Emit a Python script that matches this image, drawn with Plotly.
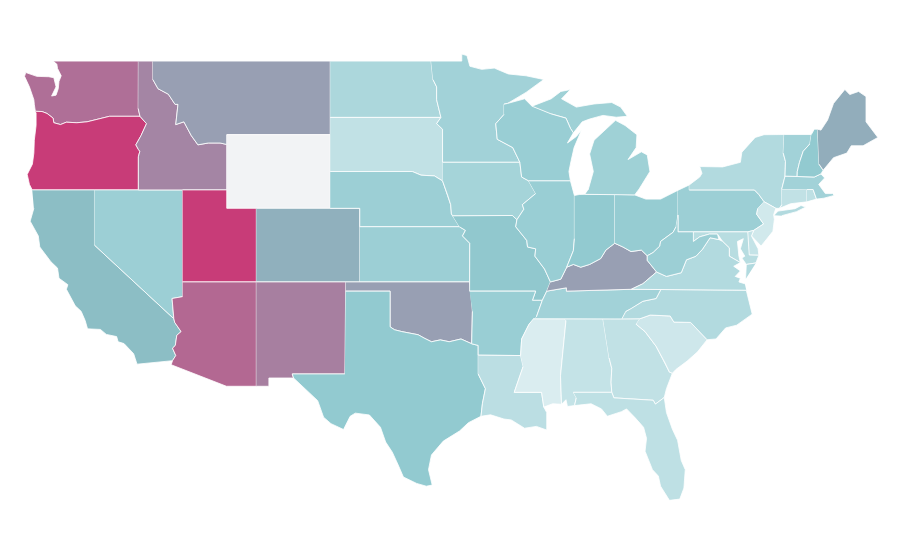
import plotly.graph_objects as go
from plotly.colors import sample_colorscale

# no topojson offline, so the state outlines are kept here as rough lon/lat lists
outlines = {
"WA": [(-122.76,49),(-117.03,49),(-117.04,46.42),(-116.92,46),(-118.98,46),(-119.3,45.93),(-120.5,45.7),(-121.2,45.65),(-121.9,45.68),(-122.3,45.55),(-122.75,45.65),(-122.8,45.9),(-123.2,46.15),(-123.55,46.26),(-124,46.27),(-124.07,46.65),(-124.1,46.9),(-124.4,47.6),(-124.73,48.17),(-124.65,48.38),(-123.9,48.17),(-123.1,48.15),(-122.75,48.1),(-122.6,47.6),(-122.9,47.1),(-122.6,47.15),(-122.45,47.5),(-122.4,47.9),(-122.25,48.2),(-122.5,48.6),(-122.55,48.85)],
"OR": [(-124,46.27),(-123.55,46.26),(-123.2,46.15),(-122.8,45.9),(-122.75,45.65),(-122.3,45.55),(-121.9,45.68),(-121.2,45.65),(-120.5,45.7),(-119.3,45.93),(-118.98,46),(-116.92,46),(-116.48,45.6),(-116.85,44.95),(-117.2,44.45),(-117.03,44.2),(-116.93,44.1),(-117.03,43.8),(-117.03,42),(-124.21,42),(-124.4,42.3),(-124.55,42.84),(-124.2,43.4),(-124.1,44),(-124.07,44.7),(-123.95,45.5),(-123.95,46.2)],
"CA": [(-124.21,42),(-120,42),(-120,39),(-114.63,35),(-114.57,34.8),(-114.14,34.3),(-114.43,34.1),(-114.53,33.55),(-114.72,33.4),(-114.5,33),(-114.72,32.72),(-117.12,32.53),(-117.25,32.85),(-117.35,33.1),(-118,33.65),(-118.4,33.75),(-118.5,34.03),(-119.2,34.15),(-119.6,34.42),(-120.47,34.45),(-120.63,34.9),(-120.9,35.4),(-121.3,35.7),(-121.9,36.6),(-121.8,36.85),(-122.4,37.2),(-122.5,37.75),(-122.95,38.1),(-123.7,38.9),(-123.8,39.5),(-124.35,40.3),(-124.1,41)],
"NV": [(-120,42),(-114.04,42),(-114.04,36.2),(-114.75,36.1),(-114.63,35),(-120,39)],
"ID": [(-117.03,49),(-116.05,49),(-116.05,48),(-115.7,47.5),(-115,47.2),(-114.55,46.65),(-114.35,46.65),(-114.5,45.55),(-113.95,45.7),(-113.45,44.95),(-113,44.45),(-112.3,44.55),(-111.5,44.55),(-111.05,44.47),(-111.05,42),(-117.03,42),(-117.03,43.8),(-116.93,44.1),(-117.03,44.2),(-117.2,44.45),(-116.85,44.95),(-116.48,45.6),(-116.92,46),(-117.04,46.42)],
"MT": [(-116.05,49),(-104.05,49),(-104.05,45),(-111.05,45),(-111.05,44.47),(-111.5,44.55),(-112.3,44.55),(-113,44.45),(-113.45,44.95),(-113.95,45.7),(-114.5,45.55),(-114.35,46.65),(-114.55,46.65),(-115,47.2),(-115.7,47.5),(-116.05,48)],
"WY": [(-111.05,45),(-104.05,45),(-104.05,41),(-111.05,41)],
"UT": [(-114.04,42),(-111.05,42),(-111.05,41),(-109.05,41),(-109.05,37),(-114.04,37)],
"CO": [(-109.05,41),(-102.05,41),(-102.05,37),(-109.05,37)],
"AZ": [(-114.04,37),(-109.05,37),(-109.05,31.33),(-111.07,31.33),(-114.81,32.5),(-114.72,32.72),(-114.5,33),(-114.72,33.4),(-114.53,33.55),(-114.43,34.1),(-114.14,34.3),(-114.57,34.8),(-114.63,35),(-114.75,36.1),(-114.04,36.2)],
"NM": [(-109.05,37),(-103,37),(-103.06,32),(-106.62,32),(-106.53,31.78),(-108.2,31.78),(-108.2,31.33),(-109.05,31.33)],
"ND": [(-104.05,49),(-97.23,49),(-97.1,48),(-96.85,47.6),(-96.85,46.9),(-96.56,45.94),(-104.05,45.94)],
"SD": [(-104.05,45.94),(-96.56,45.94),(-96.85,45.6),(-96.45,45.3),(-96.45,43.5),(-96.45,42.49),(-97,42.76),(-97.9,42.8),(-98.5,43),(-104.05,43)],
"NE": [(-104.05,43),(-98.5,43),(-97.9,42.8),(-97,42.76),(-96.45,42.49),(-96.1,41.7),(-95.9,41.2),(-95.85,40.7),(-95.31,40),(-102.05,40),(-102.05,41),(-104.05,41)],
"KS": [(-102.05,40),(-95.31,40),(-94.9,39.8),(-95.1,39.5),(-94.61,39.1),(-94.62,37),(-102.05,37)],
"OK": [(-103,37),(-94.62,37),(-94.43,35.4),(-94.48,33.64),(-95.2,33.9),(-96,33.75),(-96.6,33.85),(-97.2,33.75),(-97.7,33.95),(-98.1,34.13),(-99.2,34.3),(-99.7,34.4),(-100,34.56),(-100,36.5),(-103,36.5)],
"TX": [(-103,36.5),(-100,36.5),(-100,34.56),(-99.7,34.4),(-99.2,34.3),(-98.1,34.13),(-97.7,33.95),(-97.2,33.75),(-96.6,33.85),(-96,33.75),(-95.2,33.9),(-94.48,33.64),(-94.04,33.55),(-94.04,32),(-93.55,31.2),(-93.75,30.4),(-93.85,29.7),(-94.7,29.35),(-95.3,28.9),(-96.4,28.35),(-97.2,27.6),(-97.4,26.8),(-97.15,25.96),(-97.55,25.9),(-98.2,26.05),(-99.1,26.4),(-99.45,27.05),(-99.85,27.75),(-100.3,28.3),(-100.65,29.1),(-101.4,29.77),(-102.35,29.87),(-102.7,29.7),(-103.15,28.98),(-104,29.3),(-104.5,29.65),(-104.9,30.55),(-106,31.4),(-106.53,31.78),(-106.62,32),(-103.06,32)],
"MN": [(-97.23,49),(-95.15,49),(-95.15,49.38),(-94.8,49.3),(-94.6,48.72),(-93.8,48.55),(-92.95,48.62),(-92,48.3),(-90.8,48.2),(-89.6,48),(-90.8,47.3),(-92.05,46.7),(-92.29,46.66),(-92.29,46.1),(-92.85,45.6),(-92.75,44.75),(-91.7,44.3),(-91.22,43.5),(-96.45,43.5),(-96.45,45.3),(-96.85,45.6),(-96.56,45.94),(-96.85,46.9),(-96.85,47.6),(-97.1,48)],
"IA": [(-96.45,43.5),(-91.22,43.5),(-91.1,42.7),(-90.64,42.5),(-90.15,41.8),(-91.05,41.2),(-90.95,40.95),(-91.42,40.38),(-91.73,40.61),(-95.77,40.59),(-95.85,40.7),(-95.9,41.2),(-96.1,41.7),(-96.45,42.49)],
"MO": [(-95.77,40.59),(-91.73,40.61),(-91.42,40.38),(-91.5,40),(-90.75,39.25),(-90.7,38.9),(-90.15,38.8),(-90.2,38.4),(-89.55,37.7),(-89.15,37),(-89.4,36.5),(-89.7,36),(-90.37,36),(-90.15,36.5),(-94.62,36.5),(-94.61,39.1),(-95.1,39.5),(-94.9,39.8),(-95.31,40)],
"AR": [(-94.62,36.5),(-90.15,36.5),(-90.37,36),(-89.7,36),(-90.1,35.1),(-90.6,34.7),(-91.1,33.9),(-91.17,33),(-94.04,33.02),(-94.04,33.55),(-94.48,33.64),(-94.43,35.4)],
"LA": [(-94.04,33.02),(-91.17,33),(-91,32.4),(-91.6,31),(-89.75,31),(-89.6,30.2),(-89.4,29.9),(-89.4,28.95),(-90.1,29.15),(-90.9,29.05),(-91.8,29.5),(-92.3,29.55),(-93.2,29.78),(-93.85,29.7),(-93.75,30.4),(-93.55,31.2),(-94.04,32)],
"MS": [(-91.17,33),(-91.1,33.9),(-90.6,34.7),(-90.3,35),(-88.2,35),(-88.1,34.9),(-88.47,31.9),(-88.4,30.35),(-89,30.38),(-89.6,30.2),(-89.75,31),(-91.6,31),(-91,32.4)],
"AL": [(-88.2,35),(-85.6,35),(-85.18,32.87),(-85,32.3),(-85.05,31.55),(-85,31),(-87.6,31),(-87.4,30.7),(-87.52,30.28),(-88,30.23),(-88.1,30.6),(-88.4,30.35),(-88.47,31.9),(-88.1,34.9)],
"GA": [(-85.6,35),(-84.32,34.99),(-83.1,35),(-83.35,34.7),(-82.75,34.3),(-82,33.5),(-81.4,32.6),(-81.1,32.1),(-80.9,32.04),(-81.3,31.2),(-81.45,30.72),(-82.05,30.36),(-82.2,30.57),(-84.86,30.7),(-85,31),(-85.05,31.55),(-85,32.3),(-85.18,32.87)],
"FL": [(-87.6,31),(-85,31),(-84.86,30.7),(-82.2,30.57),(-82.05,30.36),(-81.45,30.72),(-81.3,29.9),(-80.9,29),(-80.55,28.4),(-80.3,27.3),(-80.03,26.8),(-80.12,25.8),(-80.4,25.2),(-81.1,25.13),(-81.7,25.9),(-81.85,26.45),(-82.25,26.8),(-82.75,27.8),(-82.65,28.5),(-82.85,29.1),(-83.4,29.6),(-84,30.1),(-84.35,29.95),(-85.3,29.7),(-85.7,30.1),(-86.4,30.38),(-87.52,30.28),(-87.4,30.7)],
"SC": [(-83.1,35),(-82.4,35.2),(-81.05,35.15),(-80.8,34.82),(-79.67,34.8),(-78.55,33.86),(-79.2,33.2),(-79.9,32.7),(-80.65,32.25),(-80.9,32.04),(-81.1,32.1),(-81.4,32.6),(-82,33.5),(-82.75,34.3),(-83.35,34.7)],
"NC": [(-84.32,34.99),(-83.1,35),(-82.4,35.2),(-81.05,35.15),(-80.8,34.82),(-79.67,34.8),(-78.55,33.86),(-77.95,33.9),(-77.3,34.5),(-76.55,34.65),(-75.5,35.25),(-75.9,36.55),(-81.68,36.59),(-82,36.1),(-82.9,35.95),(-83.7,35.55),(-84.05,35.4)],
"TN": [(-90.3,35),(-88.2,35),(-85.6,35),(-84.32,34.99),(-84.05,35.4),(-83.7,35.55),(-82.9,35.95),(-82,36.1),(-81.68,36.59),(-83.68,36.6),(-88.07,36.5),(-88.07,36.68),(-89.4,36.5),(-89.7,36),(-90.1,35.1)],
"KY": [(-89.4,36.5),(-88.07,36.68),(-88.07,36.5),(-83.68,36.6),(-82.9,36.9),(-81.97,37.54),(-82.6,38.17),(-82.6,38.42),(-83,38.73),(-83.7,38.65),(-84.25,38.9),(-84.8,39.1),(-85.4,38.73),(-85.75,38.27),(-86.5,37.95),(-87.1,37.8),(-87.6,37.95),(-88.05,37.8),(-88.45,37.15),(-89.15,37)],
"IL": [(-90.64,42.5),(-87.8,42.5),(-87.53,41.7),(-87.53,39.35),(-87.6,38.7),(-88.05,37.8),(-88.45,37.15),(-89.15,37),(-89.55,37.7),(-90.2,38.4),(-90.15,38.8),(-90.7,38.9),(-90.75,39.25),(-91.5,40),(-91.42,40.38),(-90.95,40.95),(-91.05,41.2),(-90.15,41.8)],
"IN": [(-87.53,41.7),(-87.2,41.75),(-86.8,41.76),(-84.8,41.76),(-84.8,39.1),(-85.4,38.73),(-85.75,38.27),(-86.5,37.95),(-87.1,37.8),(-87.6,37.95),(-88.05,37.8),(-87.6,38.7),(-87.53,39.35)],
"OH": [(-84.8,41.76),(-83.45,41.73),(-82.7,41.5),(-81.7,41.5),(-80.52,41.98),(-80.52,40.64),(-80.65,40),(-80.85,39.7),(-81.7,39.2),(-81.75,38.95),(-82.2,38.6),(-82.6,38.42),(-83,38.73),(-83.7,38.65),(-84.25,38.9),(-84.8,39.1)],
"MI": [(-86.8,41.76),(-84.8,41.76),(-83.45,41.73),(-83.15,42.05),(-82.42,43),(-82.6,43.9),(-83,44.07),(-83.9,43.65),(-83.35,44.3),(-83.3,45),(-84.1,45.5),(-84.75,45.78),(-85.55,45.2),(-86.2,44.7),(-86.5,43.95),(-86.25,43),(-86.6,42),None,
       (-90.4,46.55),(-89.1,46.95),(-88.45,47.35),(-87.8,47.45),(-88.4,46.95),(-87.4,46.5),(-86.2,46.67),(-85,46.75),(-84.4,46.5),(-83.95,46),(-84.7,45.95),(-85.6,46.05),(-86.5,45.85),(-87,45.7),(-87.6,45.1),(-87.8,45.35),(-88.1,45.9),(-89.1,46.13)],
"WI": [(-92.29,46.66),(-92.05,46.7),(-90.9,46.95),(-90.4,46.55),(-89.1,46.13),(-88.1,45.9),(-87.8,45.35),(-87.6,45.1),(-88,44.55),(-87.4,44.9),(-87.05,45.25),(-87.55,44.3),(-87.75,43.6),(-87.9,43),(-87.8,42.5),(-90.64,42.5),(-91.1,42.7),(-91.22,43.5),(-91.7,44.3),(-92.75,44.75),(-92.85,45.6),(-92.29,46.1)],
"PA": [(-80.52,41.98),(-79.76,42.27),(-79.76,42),(-75.35,42),(-75.05,41.75),(-74.7,41.36),(-75.13,40.98),(-75.2,40.68),(-74.73,40.15),(-75.4,39.8),(-75.8,39.72),(-80.52,39.72),(-80.52,40.64)],
"NY": [(-79.76,42.27),(-79.05,42.7),(-78.9,42.9),(-79.05,43.27),(-77.5,43.25),(-76.3,43.5),(-76.2,44.05),(-75.3,44.85),(-74.7,45),(-73.34,45.01),(-73.4,44),(-73.25,43.55),(-73.28,42.75),(-73.5,42.05),(-73.49,41.2),(-73.65,41),(-73.9,41),(-74.7,41.36),(-75.05,41.75),(-75.35,42),(-79.76,42),None,
       (-74.02,40.62),(-73.75,40.85),(-72.6,40.98),(-72.2,41.15),(-71.87,41.07),(-72.5,40.82),(-73.5,40.6)],
"NJ": [(-74.7,41.36),(-73.9,41),(-74.05,40.65),(-74,40.4),(-74.1,39.75),(-74.9,38.95),(-75.55,39.5),(-75.4,39.8),(-74.73,40.15),(-75.2,40.68),(-75.13,40.98)],
"DE": [(-75.8,39.72),(-75.4,39.8),(-75.55,39.5),(-75.1,38.8),(-75.05,38.45),(-75.7,38.46)],
"MD": [(-79.48,39.72),(-75.8,39.72),(-75.7,38.46),(-75.05,38.45),(-75.25,38.03),(-75.9,37.95),(-76.2,38.3),(-76,38.4),(-76.3,38.8),(-76.1,39.35),(-76.5,39.2),(-76.4,38.4),(-76.3,38.05),(-77.05,38.4),(-77.05,38.85),(-77.5,39.2),(-77.85,39.6),(-78.4,39.6),(-79.05,39.45),(-79.48,39.2)],
"VA": [(-75.9,36.55),(-81.68,36.59),(-83.68,36.6),(-82.9,36.9),(-81.97,37.54),(-81.3,37.3),(-80.3,37.5),(-79.95,38.2),(-79.3,38.4),(-78.87,38.77),(-78.35,39.4),(-77.75,39.3),(-77.5,39.2),(-77.05,38.85),(-77.05,38.4),(-76.3,38.05),(-76.75,37.85),(-76.3,37.6),(-76.65,37.3),(-76.3,37.2),(-76.4,37),(-76,36.9),None,
       (-75.25,38.03),(-75.9,37.95),(-75.95,37.15)],
"WV": [(-80.52,40.64),(-80.52,39.72),(-79.48,39.72),(-79.48,39.2),(-79.05,39.45),(-78.4,39.6),(-77.85,39.6),(-77.75,39.3),(-78.35,39.4),(-78.87,38.77),(-79.3,38.4),(-79.95,38.2),(-80.3,37.5),(-81.3,37.3),(-81.97,37.54),(-82.6,38.17),(-82.6,38.42),(-82.2,38.6),(-81.75,38.95),(-81.7,39.2),(-80.85,39.7),(-80.65,40)],
"CT": [(-73.5,42.05),(-71.8,42.02),(-71.8,41.35),(-72.9,41.25),(-73.65,41),(-73.49,41.2)],
"RI": [(-71.8,42.02),(-71.38,42.02),(-71.15,41.5),(-71.8,41.35)],
"MA": [(-73.5,42.05),(-73.28,42.75),(-71.3,42.7),(-70.85,42.87),(-70.6,42.65),(-71,42.3),(-70.55,41.8),(-70.05,41.8),(-69.95,41.7),(-70.65,41.55),(-71.15,41.5),(-71.38,42.02),(-71.8,42.02)],
"VT": [(-73.34,45.01),(-71.5,45.01),(-71.6,44.5),(-72.05,44.1),(-72.3,43.5),(-72.45,43),(-72.46,42.73),(-73.28,42.75),(-73.25,43.55),(-73.4,44)],
"NH": [(-71.5,45.01),(-71.3,45.3),(-71.08,45.3),(-70.98,43.4),(-70.7,43.07),(-70.85,42.87),(-71.3,42.7),(-72.46,42.73),(-72.45,43),(-72.3,43.5),(-72.05,44.1),(-71.6,44.5)],
"ME": [(-71.08,45.3),(-70.85,45.25),(-70.4,45.8),(-70,46.7),(-69.23,47.46),(-68.9,47.18),(-68.3,47.35),(-67.8,47.07),(-67.8,45.7),(-67.45,45.3),(-67,44.85),(-68,44.4),(-68.8,44.4),(-69.1,44),(-70,43.75),(-70.7,43.07),(-70.98,43.4)],
}

# 0 to 100. Wyoming has no value in the picture
values = {"WA":74,"OR":100,"CA":34,"NV":22,"ID":63,"MT":50,"UT":100,"AZ":78,"CO":41,"NM":66,
          "ND":17,"SD":10,"NE":22,"KS":22,"OK":50,"TX":26,"MN":20,"IA":19,"MO":27,"AR":23,
          "LA":12,"WI":23,"IL":23,"MI":21,"IN":26,"OH":24,"KY":50,"TN":20,"MS":2,"AL":9,
          "GA":10,"FL":11,"SC":6,"NC":15,"VA":15,"WV":22,"PA":22,"NY":15,"MD":13,"DE":9,
          "NJ":5,"CT":10,"RI":11,"MA":20,"VT":20,"NH":26,"ME":43}

no_data_color = "#f2f3f5"
colorscale = [[0, "#e0f0f3"], [0.25, "#93cbd1"], [0.35, "#8bbcc4"], [0.5, "#989fb3"], [1, "#c83c78"]]

fig = go.Figure()
for state, points in outlines.items():
    lons, lats = [], []
    for p in points:
        lons.append(p[0] if p else None)
        lats.append(p[1] if p else None)
    if state in values:
        color = sample_colorscale(colorscale, values[state] / 100)[0]
    else:
        color = no_data_color
    fig.add_trace(go.Scatter(x=lons, y=lats, name=state, mode="lines", fill="toself",
                             fillcolor=color, line=dict(color="white", width=0.8)))

# the page adds a small margin, so the ranges are nudged to land where the reference sits
fig.update_xaxes(range=[-125.85, -64.96], visible=False, fixedrange=True)
fig.update_yaxes(range=[21.455, 51.885], visible=False, fixedrange=True)
fig.update_layout(width=900, height=560, margin=dict(l=0, r=0, t=0, b=0), showlegend=False,
                  plot_bgcolor="white", paper_bgcolor="white")

fig.write_html("out.html")
